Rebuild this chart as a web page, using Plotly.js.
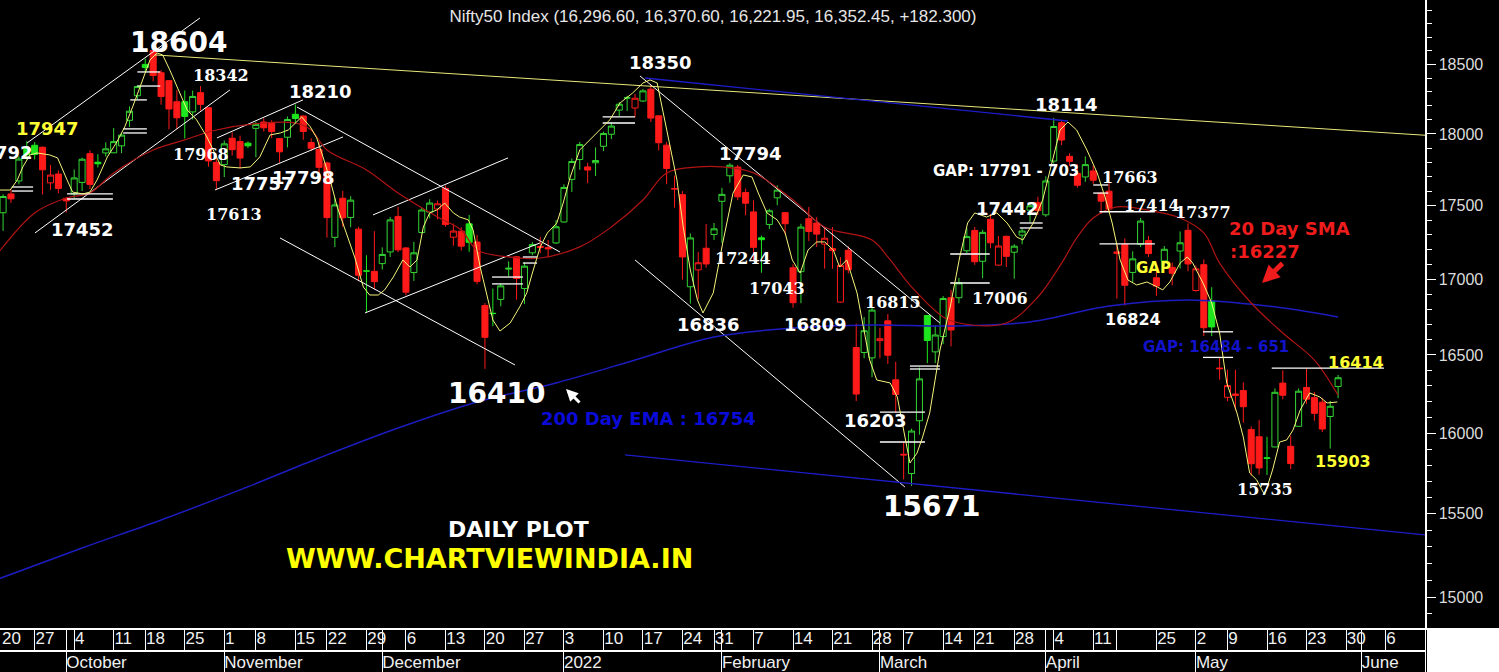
<!DOCTYPE html>
<html><head><meta charset="utf-8">
<script src="https://cdn.plot.ly/plotly-3.0.1.min.js"></script>
<style>html,body{margin:0;padding:0;background:#000;overflow:hidden}#chart{width:1499px;height:672px}</style>
</head><body><div id="chart"></div>
<script>
// ---------- DATA ----------
const firstIdx = -9; // trading-day number of the first candle (2021-09-21); 2021-10-04 = 0
const dates = ['2021-09-21','2021-09-22','2021-09-23','2021-09-24','2021-09-27','2021-09-28','2021-09-29','2021-09-30','2021-10-01',
'2021-10-04','2021-10-05','2021-10-06','2021-10-07','2021-10-08','2021-10-11','2021-10-12','2021-10-13','2021-10-14','2021-10-18',
'2021-10-19','2021-10-20','2021-10-21','2021-10-22','2021-10-25','2021-10-26','2021-10-27','2021-10-28','2021-10-29','2021-11-01',
'2021-11-02','2021-11-03','2021-11-04','2021-11-08','2021-11-09','2021-11-10','2021-11-11','2021-11-12','2021-11-15','2021-11-16',
'2021-11-17','2021-11-18','2021-11-22','2021-11-23','2021-11-24','2021-11-25','2021-11-26','2021-11-29','2021-11-30','2021-12-01',
'2021-12-02','2021-12-03','2021-12-06','2021-12-07','2021-12-08','2021-12-09','2021-12-10','2021-12-13','2021-12-14','2021-12-15',
'2021-12-16','2021-12-17','2021-12-20','2021-12-21','2021-12-22','2021-12-23','2021-12-24','2021-12-27','2021-12-28','2021-12-29',
'2021-12-30','2021-12-31','2022-01-03','2022-01-04','2022-01-05','2022-01-06','2022-01-07','2022-01-10','2022-01-11','2022-01-12',
'2022-01-13','2022-01-14','2022-01-17','2022-01-18','2022-01-19','2022-01-20','2022-01-21','2022-01-24','2022-01-25','2022-01-27',
'2022-01-28','2022-01-31','2022-02-01','2022-02-02','2022-02-03','2022-02-04','2022-02-07','2022-02-08','2022-02-09','2022-02-10',
'2022-02-11','2022-02-14','2022-02-15','2022-02-16','2022-02-17','2022-02-18','2022-02-21','2022-02-22','2022-02-23','2022-02-24',
'2022-02-25','2022-02-28','2022-03-02','2022-03-03','2022-03-04','2022-03-07','2022-03-08','2022-03-09','2022-03-10','2022-03-11',
'2022-03-14','2022-03-15','2022-03-16','2022-03-17','2022-03-21','2022-03-22','2022-03-23','2022-03-24','2022-03-25','2022-03-28',
'2022-03-29','2022-03-30','2022-03-31','2022-04-01','2022-04-04','2022-04-05','2022-04-06','2022-04-07','2022-04-08','2022-04-11',
'2022-04-12','2022-04-13','2022-04-18','2022-04-19','2022-04-20','2022-04-21','2022-04-22','2022-04-25','2022-04-26','2022-04-27',
'2022-04-28','2022-04-29','2022-05-02','2022-05-04','2022-05-05','2022-05-06','2022-05-09','2022-05-10','2022-05-11','2022-05-12',
'2022-05-13','2022-05-16','2022-05-17','2022-05-18','2022-05-19','2022-05-20','2022-05-23','2022-05-24','2022-05-25','2022-05-26','2022-05-27'];

const openP = [17450,17580,17670,17897,17920,17906,17657,17718,17550,
17580,17660,17861,17801,17866,17867,17916,18097,18273,18500,
18602,18439,18382,18230,18230,18157,18295,18187,17800,17784,
17970,17947,17935,18040,18085,18080,17967,17977,18140,18128,
17939,17890,17796,17282,17550,17418,17338,17055,17052,17104,
17183,17425,17210,17044,17315,17455,17476,17619,17283,17324,
17374,17250,16824,16773,16865,17067,17150,16937,17177,17220,
17212,17244,17387,17681,17820,17768,17797,17913,17998,18170,
18257,18185,18235,18320,18129,17921,17613,17575,16949,17062,
17208,17302,17529,17706,17767,17590,17456,17279,17370,17553,
17451,17076,17050,17409,17380,17236,17192,16847,17194,16548,
16516,16481,16593,16723,16339,15867,15747,16078,16758,16520,
16620,16876,16876,17191,17329,17120,17405,17094,17289,17181,
17297,17468,17519,17436,17809,18080,17842,17723,17698,17740,
17584,17599,17183,17235,17045,17235,17260,17009,17122,17079,
17189,17330,16924,17097,16854,16415,16227,16248,16270,16022,
15977,15845,15913,16318,15917,16043,16290,16225,16196,16105,16296.6];
const highP = [17578,17610,17843,17948,17943,17912,17782,17743,17557,
17750,17833,17884,17857,17941,18042,18008,18197,18350,18543,
18604,18458,18384,18314,18310,18310,18342,18190,17830,17954,
18012,17988,17947,18087,18112,18098,17971,18124,18210,18132,
17969,17945,17805,17553,17601,17564,17355,17160,17324,17214,
17420,17490,17216,17251,17484,17543,17534,17639,17376,17351,
17435,17298,16840,16937,16971,17119,17155,17112,17250,17285,
17264,17400,17647,17827,17944,17797,17905,18017,18081,18227,
18272,18286,18321,18350,18130,17943,17707,17599,17309,17182,
17373,17380,17622,17794,17781,17617,17536,17294,17477,17639,
17455,17099,17375,17490,17420,17351,17352,17148,17220,16705,
16748,16815,16678,16768,16456,15944,16028,16418,16758,16694,
16887,16928,17008,17344,17353,17334,17442,17291,17294,17235,
17343,17522,17560,17703,18114,18095,17864,17787,17842,17779,
17595,17663,17237,17275,17187,17414,17292,17054,17223,17111,
17322,17377,17092,17132,16946,16484,16404,16404,16323,16042,
16083,15977,16284,16400,15984,16284,16414,16262,16223,16204,16370.6];
const lowP = [17326,17518,17646,17819,17820,17576,17608,17585,17452,
17550,17600,17613,17764,17840,17865,17865,18050,18248,18445,
18377,18209,18033,18034,17968,18102,18167,17770,17613,17697,
17847,17757,17900,17836,18017,17971,17798,17905,18071,17959,
17879,17688,17280,17216,17354,17351,16986,16782,16931,17064,
17149,17181,16891,16988,17308,17412,17405,17355,17225,17192,
17184,16966,16410,16688,16819,17017,16863,16834,17161,17176,
17146,17238,17383,17593,17748,17655,17704,17879,17964,18128,
18164,18119,18228,18085,17884,17648,17485,16997,16837,16866,
17077,17264,17244,17658,17537,17433,17119,17043,17339,17502,
17303,16810,16840,17257,17217,17070,17070,16843,17039,16203,
16478,16356,16478,16442,16133,15711,15671,15990,16447,16447,
16570,16556,16839,17175,17096,17006,17208,17091,17081,17003,
17235,17387,17435,17422,17791,17921,17775,17623,17664,17650,
17442,17457,16869,16824,16979,17216,17149,16889,17091,16959,
17071,17053,16917,16623,16623,16340,16202,16142,16066,15735,
15740,15739,15911,16214,15775,16043,16185,16078,16006,15903,16221.95];
const closeP = [17562,17546,17823,17853,17855,17748,17711,17618,17532,
17691,17822,17646,17790,17895,17946,17992,18162,18339,18477,
18419,18267,18178,18115,18125,18268,18211,17810,17672,17930,
17889,17830,17916,18068,18044,18017,17874,18103,18110,18018,
17899,17765,17417,17504,17416,17537,17026,17054,16983,17166,
17401,17197,16913,17177,17469,17517,17512,17369,17325,17222,
17248,16985,16615,16771,16955,17073,17004,17087,17233,17214,
17204,17354,17625,17806,17925,17746,17813,18003,18056,18212,
18258,18255,18308,18113,17938,17757,17617,17149,17278,17110,
17102,17340,17577,17780,17560,17516,17214,17266,17464,17606,
17375,16843,17352,17322,17304,17276,17206,17092,17063,16248,
16658,16794,16606,16498,16245,15863,16013,16345,16594,16630,
16871,16663,16975,17287,17117,17316,17245,17223,17153,17222,
17325,17498,17465,17670,18053,17957,17807,17640,17784,17675,
17530,17476,17174,16959,17136,17393,17172,16954,17201,17039,
17245,17102,17069,16678,16683,16411,16302,16240,16167,15808,
15782,15842,16259,16240,15809,16266,16215,16125,16026,16170,16352.45];

// 200-day EMA (blue), read at sample days
const emaIdx = [-10,1,11,21,31,41,51,61,71,81,91,101,111,121,131,141,151,160];
const emaVal = [15100,15292,15462,15646,15844,16032,16197,16319,16467,16617,16676,16696,16689,16716,16821,16861,16821,16749];
// 20-day SMA (dark red), read at sample days
const smaIdx = [-10,-5,-1,2,5,10,14,18,24,28,30,32,37,41,46,49,51,55,59,64,68,72,75,79,82,86,91,95,101,103,106,110,112,118,122,125,127,129,132,137,140,143,145,149,153,157,160];
const smaVal = [17150,17449,17552,17587,17726,17887,17958,18028,18078,18078,18028,17887,17747,17587,17421,17332,17196,17149,17142,17217,17353,17538,17726,17768,17768,17726,17538,17353,17264,17149,16948,16749,16709,16709,16881,17108,17285,17414,17490,17456,17414,17312,17108,16841,16643,16467,16240];
// short smoothed price line (yellow)
const yelIdx = [-9.4,-8.1,-7.2,-6.5,-5.6,-4.7,-3.1,-2.1,-0.9,-0.2,1.1,2.0,2.9,4.2,5.4,6.4,7.4,8.7,9.6,10.5,
11.2,12.1,13.0,14.3,15.5,16.8,17.6,18.5,19.3,21.0,22.3,23.5,24.8,26.1,27.1,28.2,28.8,29.9,30.7,31.5,
32.4,33.3,34.3,35.5,36.6,37.4,38.5,39.3,40.4,41.6,42.5,43.4,44.2,45.0,45.9,46.9,48.0,48.8,49.9,50.5,
51.4,52.3,53.0,53.9,55.2,56.4,57.3,58.0,59.0,59.9,61.1,61.9,62.8,64.0,65.3,66.1,67.8,69.1,70.7,72.0,
72.9,73.8,74.5,75.4,76.3,77.1,78.0,78.9,79.6,80.9,82.1,83.4,84.7,85.8,86.6,87.7,89.0,90.0,90.9,91.9,
92.9,94.0,95.0,96.1,96.9,97.8,99.1,99.9,100.7,101.6,103.3,104.2,104.9,105.8,106.7,107.4,108.3,109.6,110.9,112.1,
113.1,114.0,115.5,116.8,118.1,119.3,120.1,121.4,122.6,123.8,124.8,125.8,126.9,128.2,129.5,130.5,131.4,132.4,133.4,134.5,
135.8,137.1,137.8,138.7,140.0,140.9,141.6,142.9,144.0,145.0,145.9,147.2,148.0,148.8,149.7,150.7,151.7,152.6,153.5,154.3,
155.2,156.4,157.7,158.6,159.9];
const yelVal = [17607,17607,17677,17768,17852,17866,17852,17831,17677,17593,17580,17593,17677,17838,17943,18050,18193,18387,18532,18583,
18569,18460,18336,18171,18100,17979,17887,17782,17768,17761,17768,17838,17993,18007,18028,18085,18121,18050,17972,17838,
17677,17490,17332,17149,16948,16894,16894,16928,17014,17129,17081,17129,17353,17449,17469,17517,17449,17421,17401,17332,
17081,16881,16729,16656,16709,16815,16908,17041,17217,17312,17380,17517,17698,17887,17958,18007,18100,18221,18293,18365,
18387,18365,18171,17908,17677,17353,17061,16861,16775,16908,17244,17586,17712,17698,17586,17449,17401,17312,17129,17041,
17196,17251,17251,17196,17081,17129,16908,16683,16467,16338,16319,16229,16039,15813,15875,15975,16127,16532,16815,17149,
17380,17449,17421,17449,17380,17285,17264,17380,17538,17796,18028,18085,18028,17887,17726,17558,17380,17129,16994,16961,
16981,16948,16928,16981,17108,17149,17108,16974,16841,16643,16319,16127,15975,15751,15707,15615,15769,15944,15957,16020,
16146,16255,16229,16191,16197];
// trend lines: [dayStart, priceStart, dayEnd, priceEnd]
const whiteTrends = [[-5.97,17936,15.92,18841],[-4.96,17312,19.72,18315],[18.08,17972,28.96,18243],[17.82,17607,34.03,17979],
[28.2,18192,61.49,17183],[26.05,17278,55.8,16435],[37.82,17435,54.92,17831],[36.81,16775,58.96,17244],
[71.62,18416,109.59,16709],[70.99,17129,105.16,15664]];
const yellowTrend = [10.23,18569,171.0,17991];
const blueTrends = [[72.26,18401,125.8,18092],[69.73,15863,171.0,15371]];
// short horizontal gap / level markers: [dayStart, dayEnd, price]
const levelLines = [[-7.9,-5.2,17628],[-7.9,-5.2,17600],[-0.9,4.9,17580],[-0.9,4.9,17545],[6.2,9.2,18036],[6.2,9.2,18007],
[7.1,9.2,18243],[8,10.9,18445],[8,10.9,18343],[52.9,56.8,17014],[52.9,56.8,16968],[56.8,58.6,17149],[56.8,58.6,17108],
[66.9,71,18121],[66.9,71,18078],[102,107.7,16133],[102,107.7,15944],[105.8,109.6,16428],[105.8,109.6,16409],
[110.9,115.9,17169],[110.9,115.9,16974],[119.7,122.6,17380],[119.7,122.6,17346],[129,130.9,17642],[129,130.9,17586],
[129.8,136.8,17457],[129.8,136.8,17237],[142.9,146.7,16651],[142.9,146.7,16484],[151.6,165.8,16414]];
// axis ticks
const weekTickIdx = [-5,0,5,9,14,19,23,28,32,37,42,47,52,57,62,67,72,77,81,86,91,96,101,105,110,114,119,124,129,132,137,142,146,151,156,161,166];
const weekTickText = ['27','4','11','18','25','1','8','15','22','29','6','13','20','27','3','10','17','24','31','7','14','21','28','7','14','21','28','4','11','','25','2','9','16','23','30','6'];
const monthIdx = [-1,19,39,62,82,102,123,142,163];
const monthText = ['October','November','December','2022','February','March','April','May','June'];
const yTicks = [15000,15500,16000,16500,17000,17500,18000,18500];

// ---------- BUILD ----------
const X = dates.map((d,i)=>i+firstIdx);
const groups = {gh:[],gf:[],rh:[],rf:[]};
for(let i=0;i<dates.length;i++){
  const up = i===0 ? true : closeP[i] >= closeP[i-1];
  const hollow = closeP[i] > openP[i];
  groups[(up?'g':'r')+(hollow?'h':'f')].push(i);
}
function candle(ids, col, fill){
  return {type:'candlestick', xaxis:'x', yaxis:'y',
    x: ids.map(i=>X[i]), open: ids.map(i=>openP[i]), high: ids.map(i=>highP[i]),
    low: ids.map(i=>lowP[i]), close: ids.map(i=>closeP[i]),
    increasing:{line:{color:col,width:1},fillcolor:fill},
    decreasing:{line:{color:col,width:1},fillcolor:fill},
    whiskerwidth:0, hoverinfo:'skip', showlegend:false};
}
function segs(list){ const xs=[],ys=[]; list.forEach(s=>{xs.push(s[0],s[2],null); ys.push(s[1],s[3],null);}); return {xs,ys}; }
const wt = segs(whiteTrends), bt = segs(blueTrends);
const lvX=[], lvY=[]; levelLines.forEach(s=>{lvX.push(s[0],s[1],null); lvY.push(s[2],s[2],null);});
function line(x,y,color,width,shape){ return {type:'scatter',mode:'lines',x:x,y:y,xaxis:'x',yaxis:'y',
  line:{color:color,width:width,shape:shape||'linear'},hoverinfo:'skip',showlegend:false,connectgaps:false}; }

const traces = [
  line(wt.xs, wt.ys, '#ffffff', 1),
  line([yellowTrend[0],yellowTrend[2]],[yellowTrend[1],yellowTrend[3]], '#e8e87a', 1),
  line(bt.xs, bt.ys, '#1c1cc8', 1.3),
  line(emaIdx, emaVal, '#1c1cc0', 1.5, 'spline'),
  line(smaIdx, smaVal, '#b01414', 1.2, 'spline'),
  line(lvX, lvY, '#ffffff', 1.3),
  candle(groups.gh, '#33d633', '#000000'),
  candle(groups.gf, '#1ee61e', '#1ee61e'),
  candle(groups.rh, '#ff1a1a', '#000000'),
  candle(groups.rf, '#ff1a1a', '#ff1a1a'),
  line(yelIdx, yelVal, '#f5f57a', 1),
  // empty traces so the two date-label bands get their own subplots
  {type:'scatter', mode:'markers', x:[null], y:[null], xaxis:'x2', yaxis:'y2', hoverinfo:'skip', showlegend:false},
  {type:'scatter', mode:'markers', x:[null], y:[null], xaxis:'x3', yaxis:'y3', hoverinfo:'skip', showlegend:false}
];

// ---------- LAYOUT ----------
const W = 1425, H = 672;
const styles = {
  big:   {family:'DejaVu Sans', size:28, color:'#ffffff', weight:'bold'},
  sans:  {family:'DejaVu Sans', size:18, color:'#ffffff', weight:'bold'},
  sansS: {family:'DejaVu Sans', size:16, color:'#ffffff', weight:'bold'},
  sansY: {family:'DejaVu Sans', size:18, color:'#ffff33', weight:'bold'},
  yelS:  {family:'DejaVu Sans', size:16, color:'#ffff33', weight:'bold'},
  serif: {family:'DejaVu Serif', size:16, color:'#ffffff', weight:'bold'},
  blue:  {family:'DejaVu Sans', size:18, color:'#0b0bd8', weight:'bold'},
  gapW:  {family:'DejaVu Sans', size:15, color:'#ffffff', weight:'bold'},
  gapB:  {family:'DejaVu Sans', size:15, color:'#1212c8', weight:'bold'},
  gapY:  {family:'DejaVu Sans', size:15, color:'#ffff33', weight:'bold'},
  red:   {family:'DejaVu Sans', size:18, color:'#ee1c1c', weight:'bold'},
  daily: {family:'DejaVu Sans', size:22, color:'#ffffff', weight:'bold'},
  www:   {family:'DejaVu Sans', size:27, color:'#ffff00', weight:'bold'}
};
const labelsLayout = [
 ['18604',178,42,'big'],['18342',221,75,'serif'],['18210',320,92,'sans'],['17947',47,128,'sansY'],
 ['17792',35,153,'sans','right'],['17968',201,155,'serif'],['17757',262,183,'sans'],['17798',303,178,'sans'],
 ['17452',82,229,'sans'],['17613',234,215,'serif'],['18350',660,62,'sans'],['17794',750,154,'sans'],
 ['17244',743,258,'serif'],['17043',777,288,'serif'],['16836',708,324,'sans'],['16809',815,325,'sans'],
 ['16815',893,302,'serif'],['16203',875,420,'sans'],['16410',496,393,'big'],['15671',932,506,'big'],
 ['200 Day EMA : 16754',648,418,'blue'],['18114',1066,104,'sans'],['GAP: 17791 - 703',1006,171,'gapW'],
 ['17442',1008,208,'sans'],['17006',1000,298,'serif'],['17663',1130,178,'serif'],['17414',1152,205,'serif'],
 ['17377',1203,212,'serif'],['GAP',1153,268,'gapY'],['16824',1133,319,'sansS'],
 ['20 Day SMA',1227,228,'red','left'],[':16227',1228,251,'red','left'],['GAP: 16484 - 651',1216,347,'gapB'],
 ['16414',1356,362,'yelS'],['15903',1343,461,'yelS'],['15735',1265,489,'serif'],
 ['DAILY PLOT',518,529,'daily'],['WWW.CHARTVIEWINDIA.IN',489,558,'www']
];
const annotations = labelsLayout.map(l=>({text:l[0], x:l[1]/W, y:1-l[2]/H, xref:'paper', yref:'paper',
  xanchor:l[4]||'center', yanchor:'middle', showarrow:false, font:styles[l[3]]}));
// arrows
annotations.push({text:'', x:1262/W, y:1-283/H, xref:'paper', yref:'paper', showarrow:true, ax:22, ay:-21,
  arrowcolor:'#ee1c1c', arrowwidth:5, arrowhead:2, arrowsize:0.7});
annotations.push({text:'', x:566/W, y:1-389/H, xref:'paper', yref:'paper', showarrow:true, ax:15, ay:15,
  arrowcolor:'#ffffff', arrowwidth:3, arrowhead:2, arrowsize:0.8});
// first (partially visible) week label
const axisFont = {family:'Liberation Sans, Arial, sans-serif', size:17, color:'#f0f0f0'};
annotations.push({text:'20', x:0, y:1-638/H, xref:'paper', yref:'paper', xanchor:'left', yanchor:'middle', showarrow:false, font:axisFont});

const minorY = [];
for(let v=14900; v<=18900; v+=100){ if(v%500!==0) minorY.push(v); }

const bandTop = 44/H, bandMid = 22/H;
const xr = [-9.39, 171.0];
const layout = {
  width:1499, height:672, margin:{l:0,r:74,t:0,b:0,pad:0},
  paper_bgcolor:'#000000', plot_bgcolor:'#000000', showlegend:false, hovermode:false,
  boxgap:0.1, boxgroupgap:0.15,
  title:{text:'Nifty50 Index (16,296.60, 16,370.60, 16,221.95, 16,352.45, +182.300)',
    font:{family:'Liberation Sans, Arial, sans-serif', size:17, color:'#e6e6e6'},
    x:713/W, xref:'paper', xanchor:'center', y:1-16/H, yref:'container', yanchor:'middle'},
  xaxis:{domain:[0,1], anchor:'y', range:xr, showgrid:false, zeroline:false, showticklabels:false, ticks:'',
    showline:true, linecolor:'#ffffff', linewidth:1.5, rangeslider:{visible:false}, fixedrange:true},
  yaxis:{domain:[bandTop,1], anchor:'x', side:'right', type:'log',
    range:[Math.log10(14818), Math.log10(18975)],
    tickmode:'array', tickvals:yTicks, ticktext:yTicks.map(String),
    tickfont:{family:'Liberation Sans, Arial, sans-serif', size:16, color:'#dcdcdc'},
    ticks:'outside', ticklen:9, tickcolor:'#ffffff', tickwidth:1,
    minor:{tickmode:'array', tickvals:minorY, ticks:'outside', ticklen:5, tickcolor:'#ffffff', showgrid:false},
    showgrid:false, zeroline:false, showline:true, linecolor:'#ffffff', linewidth:1.5, fixedrange:true},
  xaxis2:{domain:[0,1], anchor:'y2', matches:'x', range:xr, tickmode:'array', tickvals:weekTickIdx, ticktext:weekTickText,
    ticklabelposition:'inside right', tickangle:0, tickfont:axisFont, ticks:'',
    showgrid:true, gridcolor:'#ffffff', gridwidth:1, zeroline:false, showline:true, linecolor:'#ffffff', linewidth:1.5,
    minor:{tickmode:'array', tickvals:monthIdx, showgrid:true, gridcolor:'#ffffff', gridwidth:1, ticks:''}, fixedrange:true},
  yaxis2:{domain:[bandMid,bandTop], anchor:'x2', range:[0,1], side:'right', showgrid:false, zeroline:false,
    showticklabels:false, ticks:'', showline:true, linecolor:'#ffffff', fixedrange:true},
  xaxis3:{domain:[0,1], anchor:'y3', side:'top', matches:'x', range:xr, tickmode:'array', tickvals:monthIdx, ticktext:monthText,
    ticklabelposition:'inside right', tickangle:0, tickfont:axisFont, ticks:'',
    showgrid:true, gridcolor:'#ffffff', gridwidth:1, zeroline:false, showline:false, fixedrange:true},
  yaxis3:{domain:[0,bandMid], anchor:'x3', range:[0,1], side:'right', showgrid:false, zeroline:false,
    showticklabels:false, ticks:'', showline:true, linecolor:'#ffffff', fixedrange:true},
  shapes:[{type:'rect', xref:'paper', yref:'paper', x0:1427/W, x1:1499/W, y0:0, y1:bandTop, fillcolor:'#ffffff', line:{width:0}, layer:'above'}],
  annotations:annotations
};
Plotly.newPlot('chart', traces, layout, {staticPlot:true, displayModeBar:false});
</script>
</body></html>
